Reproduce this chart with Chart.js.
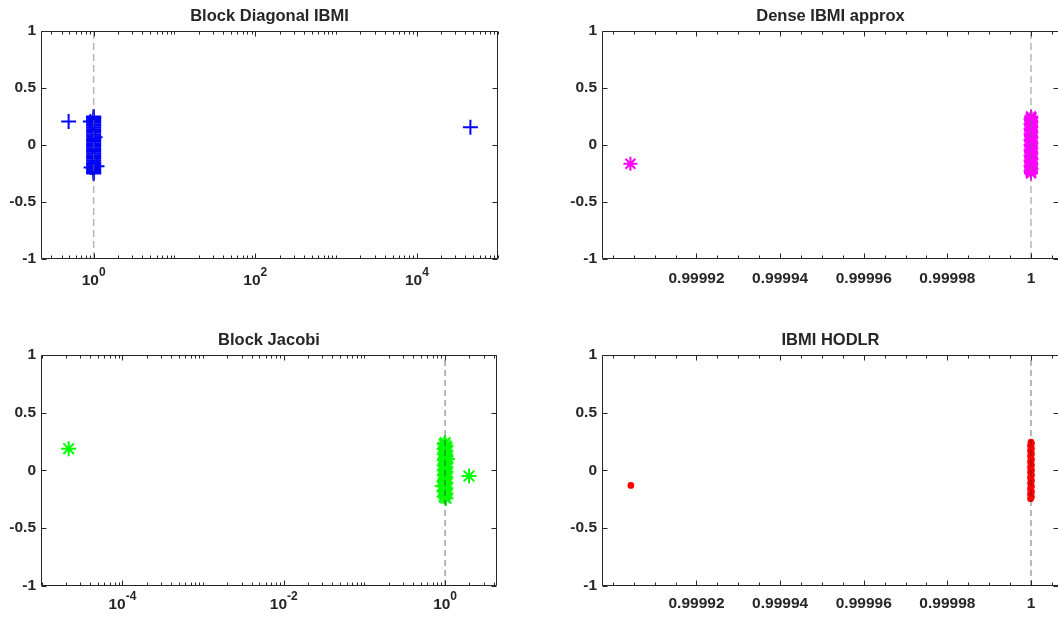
<!DOCTYPE html>
<html>
<head>
<meta charset="utf-8">
<script src="https://cdn.jsdelivr.net/npm/chart.js@4.4.1/dist/chart.umd.min.js"></script>
<style>
  html, body { margin: 0; padding: 0; background: #fff; overflow: hidden; width: 1058px; height: 617px; }
  .panel { position: absolute; }
  canvas { display: block; }
</style>
</head>
<body>
<div class="panel" style="left:0px;top:0px"><canvas id="blockDiag" width="520" height="300"></canvas></div>
<div class="panel" style="left:520px;top:0px"><canvas id="dense" width="540" height="300"></canvas></div>
<div class="panel" style="left:0px;top:325px"><canvas id="jacobi" width="520" height="292"></canvas></div>
<div class="panel" style="left:520px;top:325px"><canvas id="hodlr" width="540" height="292"></canvas></div>
<script>

// Block Diagonal IBMI
const blockDiagRe = [
  0.49, 46000, 0.91, 1.10, 1.04, 0.93,
  1, 1, 1, 1, 1, 1, 1, 1, 1, 1,
  1, 1, 1, 1, 1, 1, 1, 1, 1, 1,
  1, 1, 1, 1, 1, 1, 1, 1, 1, 1,
  1, 1, 1, 1, 1, 1, 1
];
const blockDiagIm = [
  0.205, 0.155, 0.205, -0.188, 0.068, -0.197,
  0.25, 0.242, 0.233, 0.221, 0.209, 0.196, 0.181, 0.167, 0.152, 0.137,
  0.121, 0.106, 0.09, 0.075, 0.059, 0.044, 0.029, 0.014, 0.0, -0.014,
  -0.029, -0.044, -0.059, -0.075, -0.09, -0.106, -0.121, -0.137, -0.152, -0.167,
  -0.181, -0.196, -0.209, -0.221, -0.233, -0.242, -0.25
];

// Dense IBMI approx
const denseRe = [
  0.9999042,
  1, 1.0000001, 0.9999999, 1, 1.0000001, 0.9999999, 1, 1.0000001, 0.9999999, 1,
  1.0000001, 0.9999999, 1, 1.0000001, 0.9999999, 1, 1.0000001, 0.9999999, 1, 1.0000001,
  0.9999999, 1, 1.0000001, 0.9999999, 1, 1.0000001, 0.9999999, 1, 1.0000001, 0.9999999,
  1, 1.0000001, 0.9999999, 1, 1
];
const denseIm = [
  -0.165,
  0.25, 0.238, 0.226, 0.212, 0.198, 0.184, 0.169, 0.154, 0.139, 0.124,
  0.108, 0.093, 0.077, 0.062, 0.046, 0.031, 0.015, 0.0, -0.015, -0.031,
  -0.046, -0.062, -0.077, -0.093, -0.108, -0.124, -0.139, -0.154, -0.169, -0.184,
  -0.198, -0.212, -0.226, -0.238, -0.25
];

// Block Jacobi
const jacobiRe = [
  2.16e-5, 1.98, 0.923, 1.074,
  1, 0.975, 1.025, 1, 0.975, 1.025, 1, 0.975, 1.025, 1, 0.975,
  1.025, 1, 0.975, 1.025, 1, 0.975, 1.025, 1, 0.975, 1.025, 1,
  0.975, 1.025, 1, 0.975, 1.025, 1, 0.975, 1.025, 1, 0.975, 1.025
];
const jacobiIm = [
  0.188, -0.049, -0.136, 0.098,
  0.24, 0.228, 0.214, 0.2, 0.185, 0.17, 0.155, 0.139, 0.123, 0.107, 0.091,
  0.075, 0.059, 0.043, 0.027, 0.012, 0.0, -0.012, -0.027, -0.043, -0.059, -0.075,
  -0.091, -0.107, -0.123, -0.139, -0.155, -0.17, -0.185, -0.2, -0.214, -0.228, -0.24
];

// IBMI HODLR
const hodlrRe = [
  0.9999043,
  1, 1.0000001, 0.9999999, 1, 1.0000001, 0.9999999, 1, 1.0000001, 0.9999999, 1, 1.0000001,
  0.9999999, 1, 1.0000001, 0.9999999, 1, 1.0000001, 0.9999999, 1, 1.0000001, 0.9999999, 1,
  1.0000001, 0.9999999, 1, 1.0000001, 0.9999999, 1, 1.0000001, 0.9999999, 1, 1.0000001, 0.9999999
];
const hodlrIm = [
  -0.13,
  0.245, 0.231, 0.217, 0.202, 0.187, 0.172, 0.156, 0.14, 0.124, 0.108, 0.092,
  0.076, 0.06, 0.044, 0.029, 0.014, 0.0, -0.014, -0.029, -0.044, -0.06, -0.076,
  -0.092, -0.108, -0.124, -0.14, -0.156, -0.172, -0.187, -0.202, -0.217, -0.231, -0.245
];

// the dashed x = 1 reference line
const refLineX = [1, 1];
const refLineY = [-1, 1];

// tick labels
const yTickValues = [-1, -0.5, 0, 0.5, 1];
const yTickLabels = ['-1', '-0.5', '0', '0.5', '1'];
const blockDiagTickValues = [1, 100, 10000];
const blockDiagTickExps = ['0', '2', '4'];
const jacobiTickValues = [1e-4, 1e-2, 1];
const jacobiTickExps = ['-4', '-2', '0'];
const nearOneTickValues = [0.99992, 0.99994, 0.99996, 0.99998, 1];
const nearOneTickLabels = ['0.99992', '0.99994', '0.99996', '0.99998', '1'];

const axisColor = '#262626';
const fontFamily = "'Liberation Sans', Arial, Helvetica, sans-serif";
Chart.defaults.font.family = fontFamily;
Chart.defaults.font.size = 15.5;
Chart.defaults.font.weight = 'bold';
Chart.defaults.color = axisColor;

// minor ticks 2..9 per decade, majors where labelled
function logTicks(min, max, majors) {
  const out = [];
  for (let k = Math.floor(Math.log10(min)); k <= Math.ceil(Math.log10(max)); k++) {
    for (let m = 1; m <= 9; m++) {
      const v = m * Math.pow(10, k);
      if (v >= min && v <= max) {
        out.push({ value: v, major: majors.some(t => Math.abs(t - v) / t < 1e-6) });
      }
    }
  }
  return out;
}

function linTicks(start, end, step, majors) {
  const out = [];
  const n = Math.round((end - start) / step);
  for (let i = 0; i <= n; i++) {
    const v = start + i * step;
    out.push({ value: v, major: majors.some(t => Math.abs(t - v) < step / 10) });
  }
  return out;
}

function labeller(values, labels, tol) {
  return v => {
    const i = values.findIndex(t => Math.abs(t - v) <= tol * Math.abs(t));
    return i < 0 ? '' : labels[i];
  };
}

// box, inward tick marks and 10^n labels, MATLAB style
const matlabAxes = {
  id: 'matlabAxes',
  afterDraw(chart, args, opts) {
    const { ctx, chartArea: a, scales: { x, y } } = chart;
    const L = Math.round(a.left) + 0.5, R = Math.round(a.right) - 0.5;
    const T = Math.round(a.top) + 0.5, B = Math.round(a.bottom) - 0.5;
    ctx.save();
    ctx.strokeStyle = axisColor;
    ctx.lineWidth = 1;
    ctx.beginPath();
    x.ticks.forEach(t => {
      const px = Math.round(x.getPixelForValue(t.value)) + 0.5;
      const len = t.major ? 5 : 3;
      ctx.moveTo(px, B); ctx.lineTo(px, B - len);
      ctx.moveTo(px, T); ctx.lineTo(px, T + len);
    });
    y.ticks.forEach(t => {
      const py = Math.round(y.getPixelForValue(t.value)) + 0.5;
      ctx.moveTo(L, py); ctx.lineTo(L + 5, py);
      ctx.moveTo(R, py); ctx.lineTo(R - 5, py);
    });
    ctx.rect(L, T, R - L, B - T);
    ctx.stroke();

    if (opts.expValues) {
      const baseFont = 'bold 15.5px ' + fontFamily;
      const expFont = 'bold 12px ' + fontFamily;
      ctx.fillStyle = axisColor;
      ctx.textAlign = 'left';
      ctx.textBaseline = 'alphabetic';
      opts.expValues.forEach((v, i) => {
        const px = x.getPixelForValue(v);
        ctx.font = baseFont;
        const wb = ctx.measureText('10').width;
        ctx.font = expFont;
        const we = ctx.measureText(opts.exps[i]).width;
        const left = px - (wb + we) / 2;
        ctx.font = baseFont;
        ctx.fillText('10', left, B + opts.baseline);
        ctx.font = expFont;
        ctx.fillText(opts.exps[i], left + wb, B + opts.baseline - 9);
      });
    }
    ctx.restore();
  }
};

function resetPadding(s) {
  s.paddingLeft = 0; s.paddingRight = 0; s.paddingTop = 0; s.paddingBottom = 0;
}

function drawPanel(id, p) {
  new Chart(document.getElementById(id), {
    type: 'scatter',
    data: {
      datasets: [
        {
          data: refLineX.map((v, i) => ({ x: v, y: refLineY[i] })),
          showLine: true,
          borderColor: p.refColor,
          borderWidth: p.refWidth,
          borderDash: p.refDash,
          pointRadius: 0,
          order: 0
        },
        {
          data: p.re.map((v, i) => ({ x: v, y: p.im[i] })),
          pointStyle: p.marker,
          pointRadius: p.size,
          borderColor: p.color,
          backgroundColor: p.color,
          pointBorderWidth: p.lineWidth,
          order: 1
        }
      ]
    },
    options: {
      responsive: false,
      animation: false,
      events: [],
      layout: { autoPadding: false, padding: { left: 0, right: p.padRight, top: 0, bottom: 0 } },
      plugins: {
        legend: { display: false },
        tooltip: { enabled: false },
        title: {
          display: true,
          text: p.title,
          fullSize: false,
          color: axisColor,
          font: { size: 16.5, weight: 'bold' },
          padding: p.titlePad
        },
        matlabAxes: p.exps ? { expValues: p.expValues, exps: p.exps, baseline: p.expBaseline } : {}
      },
      scales: {
        x: {
          type: p.xType,
          min: p.xMin,
          max: p.xMax,
          bounds: 'data',
          grid: { display: false, drawTicks: false },
          border: { display: false },
          afterBuildTicks: s => { s.ticks = p.xTicks.map(t => ({ value: t.value, major: t.major })); },
          afterFit: s => { s.height = p.xHeight; resetPadding(s); },
          ticks: {
            display: !p.exps,
            autoSkip: false, maxRotation: 0, minRotation: 0,
            padding: p.xLabelPad,
            callback: p.xLabel || (() => '')
          }
        },
        y: {
          type: 'linear',
          min: -1,
          max: 1,
          bounds: 'data',
          grid: { display: false, drawTicks: false },
          border: { display: false },
          afterBuildTicks: s => { s.ticks = yTickValues.map(v => ({ value: v })); },
          afterFit: s => { s.width = p.yWidth; resetPadding(s); },
          ticks: { autoSkip: false, padding: 5, callback: labeller(yTickValues, yTickLabels, 1e-9) }
        }
      }
    },
    plugins: [matlabAxes]
  });
}

document.addEventListener('DOMContentLoaded', () => {
  const topRef = { refColor: 'rgba(110,110,110,0.5)', refWidth: 1.5, refDash: [7, 4] };
  const botRef = { refColor: 'rgba(38,38,38,0.65)', refWidth: 1, refDash: [6, 4] };

  drawPanel('blockDiag', Object.assign({
    title: 'Block Diagonal IBMI',
    re: blockDiagRe, im: blockDiagIm,
    marker: 'cross', size: 7.5, lineWidth: 2, color: '#0000ff',
    xType: 'logarithmic', xMin: 0.223, xMax: 1.01e5,
    xTicks: logTicks(0.223, 1.01e5, blockDiagTickValues),
    expValues: blockDiagTickValues, exps: blockDiagTickExps, expBaseline: 26,
    yWidth: 41, padRight: 22, xHeight: 41, xLabelPad: 9,
    titlePad: { top: 7, bottom: 4 }
  }, topRef));

  drawPanel('dense', Object.assign({
    title: 'Dense IBMI approx',
    re: denseRe, im: denseIm,
    marker: 'star', size: 7, lineWidth: 2, color: '#ff00ff',
    xType: 'linear', xMin: 0.9998974, xMax: 1.0000067,
    xTicks: linTicks(0.9999, 1.000005, 0.000005, nearOneTickValues),
    xLabel: labeller(nearOneTickValues, nearOneTickLabels, 1e-9),
    yWidth: 82, padRight: 1, xHeight: 41, xLabelPad: 10,
    titlePad: { top: 7, bottom: 4 }
  }, topRef));

  drawPanel('jacobi', Object.assign({
    title: 'Block Jacobi',
    re: jacobiRe, im: jacobiIm,
    marker: 'star', size: 7.5, lineWidth: 2, color: '#00ff00',
    xType: 'logarithmic', xMin: 9.8e-6, xMax: 4.4,
    xTicks: logTicks(9.8e-6, 4.4, jacobiTickValues),
    expValues: jacobiTickValues, exps: jacobiTickExps, expBaseline: 23,
    yWidth: 41, padRight: 23, xHeight: 31, xLabelPad: 9,
    titlePad: { top: 6, bottom: 4 }
  }, botRef));

  drawPanel('hodlr', Object.assign({
    title: 'IBMI HODLR',
    re: hodlrRe, im: hodlrIm,
    marker: 'circle', size: 3.4, lineWidth: 0, color: '#ff0000',
    xType: 'linear', xMin: 0.9998974, xMax: 1.0000067,
    xTicks: linTicks(0.9999, 1.000005, 0.000005, nearOneTickValues),
    xLabel: labeller(nearOneTickValues, nearOneTickLabels, 1e-9),
    yWidth: 82, padRight: 1, xHeight: 31, xLabelPad: 8,
    titlePad: { top: 6, bottom: 4 }
  }, botRef));
});
</script>
</body>
</html>
